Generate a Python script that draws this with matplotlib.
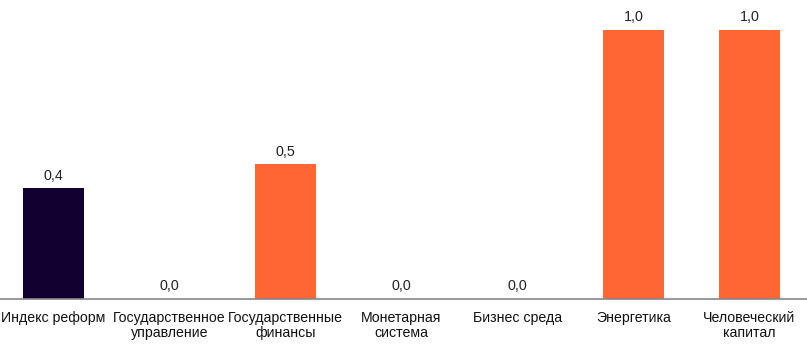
import matplotlib.pyplot as plt
import numpy as np

plt.rcParams['font.family'] = ['Liberation Sans', 'DejaVu Sans']

categories = ['Индекс реформ', 'Государственное\nуправление', 'Государственные\nфинансы',
              'Монетарная\nсистема', 'Бизнес среда', 'Энергетика', 'Человеческий\nкапитал']
values = [0.41, 0.0, 0.5, 0.0, 0.0, 1.0, 1.0]
colors = ['#110030', '#FF6633', '#FF6633', '#FF6633', '#FF6633', '#FF6633', '#FF6633']

W, H = 807, 351
fig = plt.figure(figsize=(W / 100, H / 100), dpi=100)
ax = fig.add_axes([0, 52.5 / H, 1, 268.5 / H])

x = np.arange(len(categories))
ax.bar(x, values, width=0.526, color=colors)
for xi, v in zip(x, values):
    ax.annotate(f'{v:.1f}'.replace('.', ','), (xi, v), xytext=(0, 4), textcoords='offset points',
                ha='center', va='bottom', fontsize=10.3, color='#222222', annotation_clip=False)

ax.set_xlim(-0.461, 6.496)
ax.set_ylim(0, 1.0)
ax.set_xticks(x)
ax.set_xticklabels(categories, fontsize=10.2, color='#111111', linespacing=1.1)
ax.tick_params(axis='x', length=0, pad=9)
ax.set_yticks([])
for s in ['top', 'right', 'left']:
    ax.spines[s].set_visible(False)
ax.spines['bottom'].set_color('#888888')
ax.spines['bottom'].set_linewidth(1.2)

fig.savefig('out.png', dpi=100)
